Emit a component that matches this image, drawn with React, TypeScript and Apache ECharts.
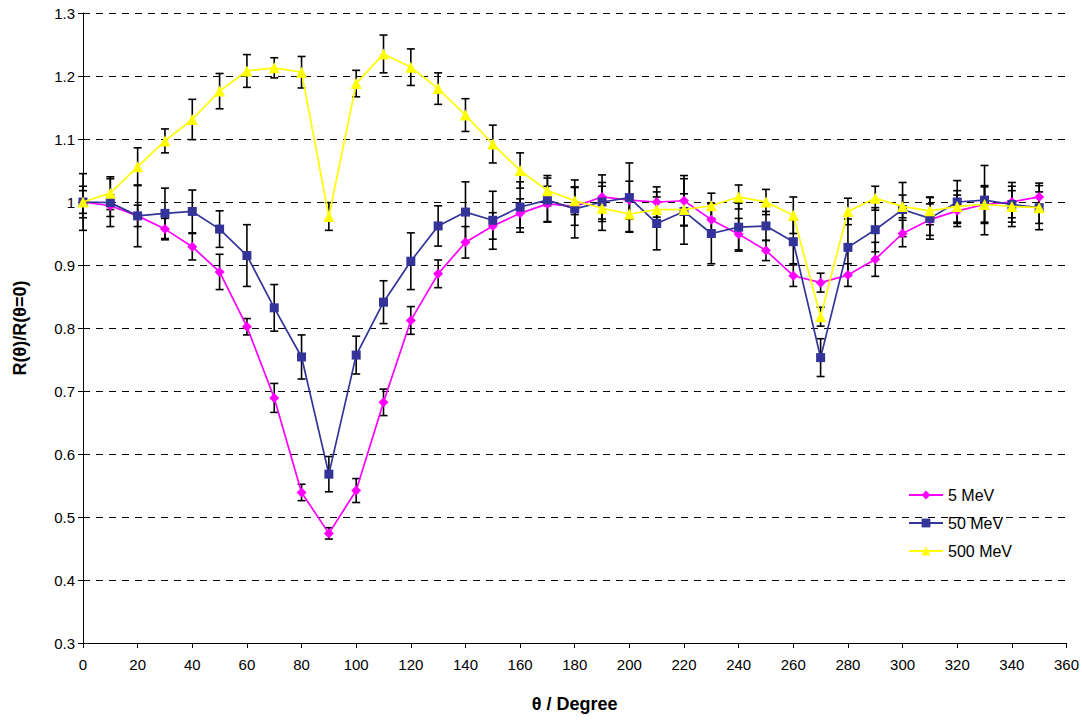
import React, { useEffect, useRef } from "react";
import * as echarts from "echarts";

const thetas = [0, 10, 20, 30, 40, 50, 60, 70, 80, 90, 100, 110, 120, 130, 140, 150, 160, 170, 180, 190, 200, 210, 220, 230, 240, 250, 260, 270, 280, 290, 300, 310, 320, 330, 340, 350];

const mev5 = [1.000, 0.994, 0.978, 0.957, 0.929, 0.889, 0.802, 0.689, 0.539, 0.474, 0.542, 0.682, 0.812, 0.886, 0.936, 0.962, 0.982, 0.997, 0.993, 1.008, 1.003, 1.000, 1.002, 0.972, 0.949, 0.923, 0.883, 0.872, 0.884, 0.909, 0.950, 0.972, 0.986, 0.996, 1.000, 1.008];
const mev5Err = [0.025, 0.017, 0.017, 0.017, 0.021, 0.028, 0.013, 0.023, 0.013, 0.009, 0.019, 0.021, 0.022, 0.022, 0.025, 0.021, 0.023, 0.028, 0.030, 0.035, 0.030, 0.024, 0.040, 0.025, 0.025, 0.016, 0.017, 0.015, 0.018, 0.027, 0.021, 0.025, 0.025, 0.030, 0.025, 0.022];

const mev50 = [1.000, 0.999, 0.978, 0.982, 0.985, 0.957, 0.915, 0.832, 0.754, 0.568, 0.757, 0.841, 0.906, 0.962, 0.984, 0.971, 0.992, 1.003, 0.989, 1.000, 1.007, 0.966, 0.985, 0.950, 0.960, 0.962, 0.937, 0.753, 0.928, 0.956, 0.988, 0.974, 1.000, 1.003, 0.996, 0.991];
const mev50Err = [0.045, 0.038, 0.049, 0.040, 0.034, 0.029, 0.049, 0.037, 0.035, 0.028, 0.030, 0.034, 0.045, 0.032, 0.048, 0.046, 0.040, 0.035, 0.046, 0.031, 0.055, 0.042, 0.052, 0.048, 0.038, 0.023, 0.035, 0.030, 0.045, 0.035, 0.043, 0.033, 0.034, 0.055, 0.035, 0.035];

const mev500 = [1.000, 1.014, 1.056, 1.097, 1.131, 1.176, 1.208, 1.213, 1.206, 0.977, 1.188, 1.235, 1.214, 1.180, 1.138, 1.092, 1.050, 1.018, 1.002, 0.990, 0.981, 0.988, 0.988, 0.994, 1.008, 1.000, 0.979, 0.818, 0.985, 1.006, 0.993, 0.986, 0.993, 0.996, 0.993, 0.991];
const mev500Err = [0.018, 0.026, 0.030, 0.019, 0.032, 0.028, 0.026, 0.016, 0.025, 0.022, 0.021, 0.030, 0.029, 0.025, 0.026, 0.030, 0.028, 0.024, 0.022, 0.035, 0.028, 0.028, 0.025, 0.020, 0.019, 0.020, 0.029, 0.015, 0.021, 0.019, 0.018, 0.022, 0.025, 0.028, 0.025, 0.025];

const seriesNames = ["5 MeV", "50 MeV", "500 MeV"];
const seriesColors = ["#FF00FF", "#333399", "#FFFF00"];
const seriesSymbols = ["diamond", "rect", "triangle"];

const FONT = "'Liberation Sans', Arial, sans-serif";

function errData(vals: number[], errs: number[]) {
  return thetas.map((t, i) => [t, vals[i] - errs[i], vals[i] + errs[i]]);
}

function errSeries(vals: number[], errs: number[]) {
  return {
    type: "custom",
    silent: true,
    z: 3,
    data: errData(vals, errs),
    encode: { x: 0, y: [1, 2] },
    renderItem: (params: any, api: any) => {
      const x = api.value(0);
      const lo = api.coord([x, api.value(1)]);
      const hi = api.coord([x, api.value(2)]);
      const hw = 4;
      const style = { stroke: "#000", lineWidth: 1.6 };
      return {
        type: "group",
        children: [
          { type: "line", shape: { x1: lo[0], y1: lo[1], x2: hi[0], y2: hi[1] }, style },
          { type: "line", shape: { x1: lo[0] - hw, y1: lo[1], x2: lo[0] + hw, y2: lo[1] }, style },
          { type: "line", shape: { x1: hi[0] - hw, y1: hi[1], x2: hi[0] + hw, y2: hi[1] }, style },
        ],
      };
    },
  };
}

function lineSeries(idx: number, vals: number[]) {
  return {
    type: "line",
    name: seriesNames[idx],
    data: thetas.map((t, i) => [t, vals[i]]),
    symbol: seriesSymbols[idx],
    symbolSize: idx === 2 ? 11 : idx === 1 ? 9 : 10,
    showSymbol: true,
    z: 4 + idx,
    lineStyle: { color: seriesColors[idx], width: 1.7 },
    itemStyle: { color: seriesColors[idx] },
  };
}

export default function App() {
  const ref = useRef<HTMLDivElement>(null);
  useEffect(() => {
    if (!ref.current) return;
    const chart = echarts.init(ref.current, undefined, { renderer: "svg" });
    chart.setOption({
      animation: false,
      backgroundColor: "#fff",
      grid: { left: 83, right: 12, top: 13, bottom: 78 },
      legend: {
        orient: "vertical",
        left: 903,
        top: 482,
        itemWidth: 34,
        itemHeight: 11,
        itemGap: 12,
        data: seriesNames,
        textStyle: { fontFamily: FONT, fontSize: 16, color: "#000" },
      },
      xAxis: {
        type: "value",
        min: 0,
        max: 360,
        interval: 20,
        name: "θ / Degree",
        nameLocation: "middle",
        nameGap: 52,
        nameTextStyle: { fontFamily: FONT, fontSize: 18, fontWeight: "bold", color: "#000" },
        axisLine: { lineStyle: { color: "#000", width: 1 } },
        axisTick: { show: true, length: 5, lineStyle: { color: "#000" } },
        axisLabel: { fontFamily: FONT, fontSize: 15, color: "#000", margin: 14 },
        splitLine: { show: false },
      },
      yAxis: {
        type: "value",
        min: 0.3,
        max: 1.3,
        interval: 0.1,
        name: "R(θ)/R(θ=0)",
        nameLocation: "middle",
        nameGap: 54,
        nameTextStyle: { fontFamily: FONT, fontSize: 18, fontWeight: "bold", color: "#000" },
        axisLine: { show: true, lineStyle: { color: "#000", width: 1 } },
        axisTick: { show: true, length: 5, lineStyle: { color: "#000" } },
        axisLabel: {
          fontFamily: FONT,
          fontSize: 15,
          color: "#000",
          margin: 8,
          formatter: (v: number) => String(parseFloat(v.toFixed(1))),
        },
        splitLine: { show: true, lineStyle: { color: "#000", type: [7, 6], width: 1 } },
      },
      series: [
        errSeries(mev5, mev5Err),
        errSeries(mev50, mev50Err),
        errSeries(mev500, mev500Err),
        lineSeries(0, mev5),
        lineSeries(1, mev50),
        lineSeries(2, mev500),
      ],
    });
    return () => chart.dispose();
  }, []);
  return <div ref={ref} style={{ width: 1082, height: 721, position: "absolute", left: 0, top: 0 }} />;
}
